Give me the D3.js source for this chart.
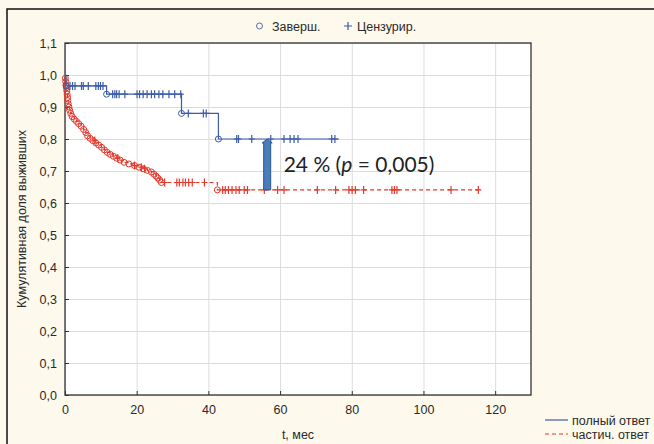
<!DOCTYPE html>
<html>
<head>
<meta charset="utf-8">
<script src="https://cdn.jsdelivr.net/npm/d3@7"></script>
<style>
  body { margin: 0; background: #fff; }
  text { font-family: "Liberation Sans", Arial, sans-serif; fill: #2a2a2a; }
  .gridlines line { stroke: #dcdcdc; stroke-width: 1; }
  .gridlines path { display: none; }
  .axis path { display: none; }
  .axis line { stroke: #333; }
  .axis text { font-size: 12.5px; }
</style>
</head>
<body>
<svg id="km" width="654" height="444"></svg>
<script>
// survival curve, complete response (blue)
const blueEventT = [0.3, 11.6, 32.5, 42.8];
const blueEventS = [0.966, 0.94, 0.88, 0.80];
const blueCensT = [1.4, 2.1, 2.8, 4.6, 5.1, 6.5, 8.6, 9.3, 9.9, 10.6,
  13.3, 13.9, 14.4, 15.1, 16.7, 20.1, 20.8, 21.8, 22.9, 24.1, 25, 26.2, 27.3, 29, 30.6, 32.3,
  34.4, 38.6, 39.4,
  47.9, 48.4, 52.1, 57.4, 61.1, 62.8, 63.9, 65, 74.4, 75.3];
const blueEnd = 76.4;

// survival curve, partial response (red)
const redEventT = [0.1, 0.2, 0.3, 0.4, 0.5, 0.6, 0.7, 0.8, 0.9, 1.1, 1.3, 1.6, 2.0, 2.6, 3.2, 3.8,
  4.5, 5.2, 5.8, 6.3, 7.0, 7.8, 8.6, 9.4, 10.2, 11.0, 11.8, 12.6, 13.5, 14.4, 15.4, 16.5,
  17.8, 19.4, 20.6, 21.8, 23.0, 24.1, 24.8, 25.4, 25.9, 26.4, 26.9, 42.5];
const redEventS = [0.99, 0.98, 0.97, 0.96, 0.95, 0.94, 0.93, 0.92, 0.91, 0.90, 0.89, 0.88, 0.87, 0.862, 0.855, 0.848,
  0.840, 0.830, 0.820, 0.810, 0.802, 0.795, 0.788, 0.781, 0.774, 0.766, 0.758, 0.752, 0.746, 0.740, 0.734, 0.727,
  0.722, 0.717, 0.712, 0.707, 0.702, 0.697, 0.690, 0.684, 0.678, 0.672, 0.664, 0.641];
const redCensT = [8.3, 14.7, 19.4, 21.3, 22.2,
  27.8, 31.2, 31.9, 32.9, 33.6, 34.5, 35.5, 38.9,
  44, 44.7, 45.6, 46.6, 47.7, 48.6, 50, 50.9, 55.6, 59.3, 61.1, 70.4, 75.5,
  79.2, 80.1, 81, 83.3, 91.2, 91.9, 92.6, 107.7, 115.3];
const redEnd = 116;

// annotation: difference between curves
const arrowT = 56.4;
const arrowFrom = 0.641;
const arrowTo = 0.80;

const xTicks = [0, 20, 40, 60, 80, 100, 120];
const yTicks = [0, 0.1, 0.2, 0.3, 0.4, 0.5, 0.6, 0.7, 0.8, 0.9, 1.0, 1.1];

let svg = d3.select("svg#km");
let margin = { top: 43, left: 65, right: 123, bottom: 49 };
let width = +svg.attr("width"), height = +svg.attr("height");
let chartWidth = width - margin.left - margin.right;
let chartHeight = height - margin.top - margin.bottom;

const x = d3.scaleLinear().domain([0, 130]).range([margin.left, margin.left + chartWidth]);
const y = d3.scaleLinear().domain([0, 1.1]).range([margin.top + chartHeight, margin.top]);
const comma = d => d3.format(".1f")(d).replace(".", ",");

// cream background and outer frame
svg.append("rect").attr("width", width).attr("height", height).attr("fill", "#fdf9ec");
svg.append("rect").attr("x", 7).attr("y", 9).attr("width", 660).attr("height", 450)
  .attr("fill", "none").attr("stroke", "#111").attr("stroke-width", 1.5);
svg.append("rect").attr("x", x(0)).attr("y", y(1.1)).attr("width", chartWidth).attr("height", chartHeight)
  .attr("fill", "#fff");

// gridlines
svg.append("g").attr("class", "gridlines")
  .attr("transform", "translate(" + margin.left + ",0)")
  .call(d3.axisLeft(y).tickValues(yTicks).tickSize(-chartWidth).tickFormat(""));
svg.append("g").attr("class", "gridlines")
  .attr("transform", "translate(0," + (margin.top + chartHeight) + ")")
  .call(d3.axisBottom(x).tickValues(xTicks).tickSize(-chartHeight).tickFormat(""));

// axes
svg.append("g").attr("class", "axis")
  .attr("transform", "translate(" + margin.left + ",0)")
  .call(d3.axisLeft(y).tickValues(yTicks).tickSize(-4).tickPadding(8).tickFormat(comma));
svg.append("g").attr("class", "axis")
  .attr("transform", "translate(0," + (margin.top + chartHeight) + ")")
  .call(d3.axisBottom(x).tickValues(xTicks).tickSize(-4).tickPadding(10));

svg.append("rect").attr("x", x(0)).attr("y", y(1.1)).attr("width", chartWidth).attr("height", chartHeight)
  .attr("fill", "none").attr("stroke", "#333").attr("stroke-width", 1.3);

// Kaplan-Meier helpers
function stepPoints(evT, evS, end) {
  let pts = [[0, 1]];
  evT.forEach((t, i) => pts.push([t, evS[i]]));
  pts.push([end, evS[evS.length - 1]]);
  return pts;
}
function survAt(evT, evS, t) {
  let s = 1;
  evT.forEach((e, i) => { if (e <= t) s = evS[i]; });
  return s;
}
const line = d3.line().x(d => x(d[0])).y(d => y(d[1])).curve(d3.curveStepAfter);

function drawCurve(evT, evS, censT, end, color, dash) {
  let g = svg.append("g");
  g.append("path").datum(stepPoints(evT, evS, end))
    .attr("d", line).attr("fill", "none").attr("stroke", color)
    .attr("stroke-width", 1.2).attr("stroke-dasharray", dash);
  evT.forEach((t, i) => {
    g.append("circle").attr("cx", x(t)).attr("cy", y(evS[i])).attr("r", 3)
      .attr("fill", "none").attr("stroke", color).attr("stroke-width", 1);
  });
  censT.forEach(t => {
    let cx = x(t), cy = y(survAt(evT, evS, t));
    g.append("path").attr("d", "M" + (cx - 3) + "," + cy + "H" + (cx + 3) + "M" + cx + "," + (cy - 4) + "V" + (cy + 4))
      .attr("stroke", color).attr("stroke-width", 1.2);
  });
}

drawCurve(redEventT, redEventS, redCensT, redEnd, "#e5392c", "4,3");
drawCurve(blueEventT, blueEventS, blueCensT, blueEnd, "#3c5ca8", null);

// arrow between curves
let ax = x(arrowT), aTop = y(arrowTo), aBot = y(arrowFrom);
svg.append("path")
  .attr("d", "M" + (ax - 3.5) + "," + aBot + "V" + (aTop + 4) + "H" + (ax - 5) + "L" + ax + "," + aTop +
    "L" + (ax + 5) + "," + (aTop + 4) + "H" + (ax + 3.5) + "V" + aBot + "Z")
  .attr("fill", "#4a7dc0").attr("stroke", "#2c5585").attr("stroke-width", 1);

let ann = svg.append("text").attr("x", x(61)).attr("y", y(0.698))
  .style("font-family", "Lato, 'Open Sans', sans-serif").style("font-size", "21px").style("fill", "#222");
ann.append("tspan").text("24 % (");
ann.append("tspan").text("p").style("font-style", "italic");
ann.append("tspan").text(" = 0,005)");

// top legend
svg.append("circle").attr("cx", 259.5).attr("cy", 26).attr("r", 3)
  .attr("fill", "none").attr("stroke", "#5a6ea8").attr("stroke-width", 1);
svg.append("text").attr("x", 272).attr("y", 30.5).style("font-size", "12.5px").text("Заверш.");
svg.append("path").attr("d", "M344,26H352M348,22V30").attr("stroke", "#3c5ca8").attr("stroke-width", 1.2);
svg.append("text").attr("x", 357).attr("y", 30.5).style("font-size", "12.5px").text("Цензурир.");

// axis titles
svg.append("text").attr("transform", "translate(26,219) rotate(-90)")
  .attr("text-anchor", "middle").style("font-size", "12.5px").text("Кумулятивная доля выживших");
svg.append("text").attr("x", x(65)).attr("y", 439)
  .attr("text-anchor", "middle").style("font-size", "12.5px").text("t, мес");

// group legend
const groupNames = ["полный ответ", "частич. ответ"];
const groupColors = ["#3c5ca8", "#e5392c"];
groupNames.forEach((name, i) => {
  let ly = 420 + i * 14;
  svg.append("line").attr("x1", 545).attr("x2", 568).attr("y1", ly).attr("y2", ly)
    .attr("stroke", groupColors[i]).attr("stroke-width", 1.2)
    .attr("stroke-dasharray", i === 1 ? "4,3" : null);
  svg.append("text").attr("x", 572).attr("y", ly + 4.5).style("font-size", "12.5px").text(name);
});
</script>
</body>
</html>
